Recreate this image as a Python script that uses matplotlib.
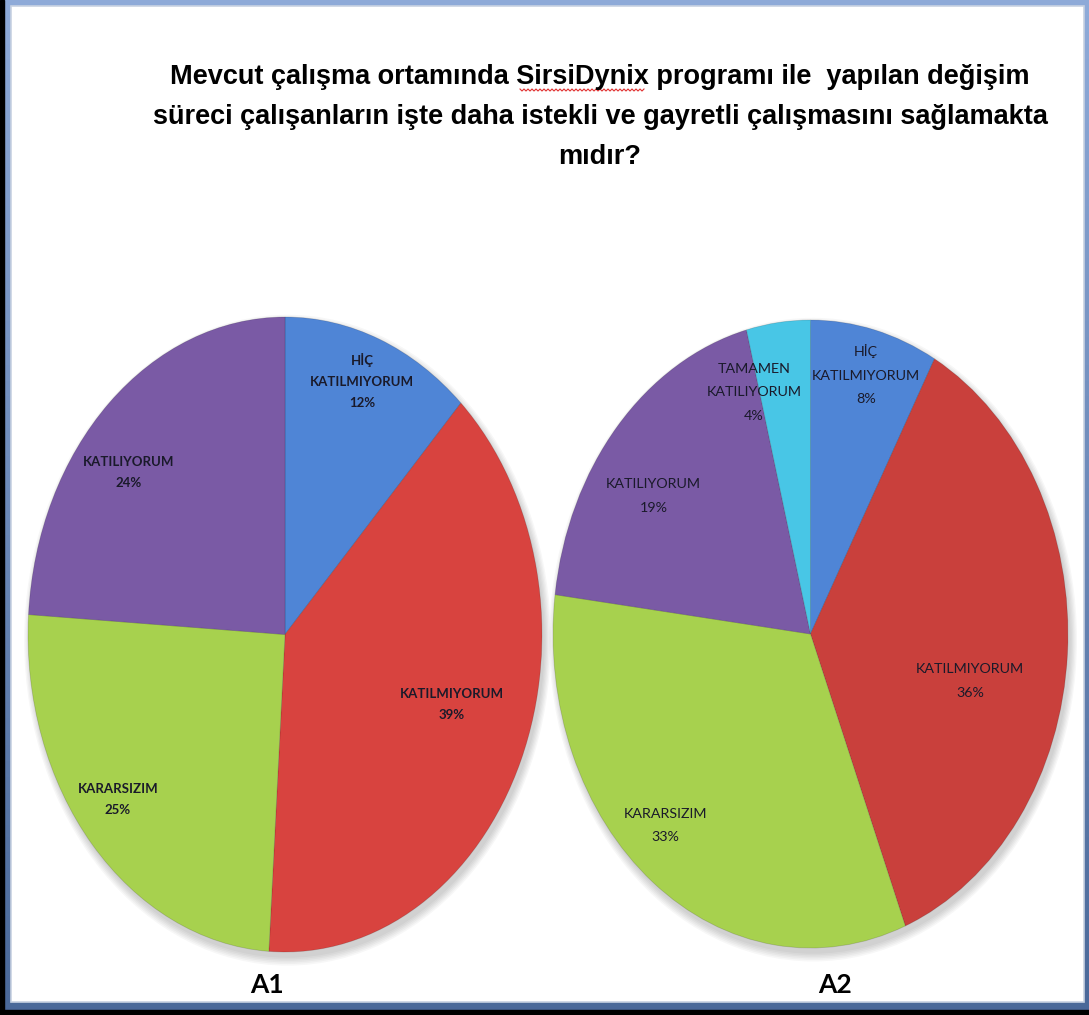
import numpy as np
import matplotlib
matplotlib.use("Agg")
import matplotlib.pyplot as plt
from matplotlib.patches import Rectangle, Ellipse

# ---------------- data ----------------
title = ("Mevcut çalışma ortamında SirsiDynix programı ile  yapılan değişim\n"
         "süreci çalışanların işte daha istekli ve gayretli çalışmasını sağlamakta\n"
         "mıdır?")

a1_labels = ["HİÇ\nKATILMIYORUM", "KATILMIYORUM", "KARARSIZIM", "KATILIYORUM"]
a1_values = [12, 39, 25, 24]
a1_name = "A1"

a2_labels = ["HİÇ\nKATILMIYORUM", "KATILMIYORUM", "KARARSIZIM", "KATILIYORUM",
             "TAMAMEN\nKATILIYORUM"]
a2_values = [8, 36, 33, 19, 4]
a2_name = "A2"

# ---------------- style ----------------
W, H = 1089, 1015
DPI = 100
col_blue = "#4f85d6"
col_red1 = "#d8433f"
col_red2 = "#c9403c"
col_green = "#a7d14e"
col_purple = "#7a5aa5"
col_cyan = "#48c6e6"
a1_colors = [col_blue, col_red1, col_green, col_purple]
a2_colors = [col_blue, col_red2, col_green, col_purple, col_cyan]

# label anchor positions in normalised pie units (x, y)
a1_label_pos = [(0.30, 0.80), (0.65, -0.22), (-0.65, -0.52), (-0.61, 0.51)]
a2_label_pos = [(0.216, 0.825), (0.62, -0.15), (-0.565, -0.61), (-0.61, 0.44),
                (-0.22, 0.77)]

fig = plt.figure(figsize=(W / DPI, H / DPI), dpi=DPI)

# ---------------- frame (background axes in pixel coordinates) ----------------
bg = fig.add_axes([0, 0, 1, 1])
bg.axis("off")
grad = np.linspace(0, 1, 256)[:, None]
top_c = np.array([0.56, 0.67, 0.85])
bot_c = np.array([0.29, 0.41, 0.60])
img = top_c[None, None, :] * (1 - grad[..., None]) + bot_c[None, None, :] * grad[..., None]
img = np.repeat(img, 2, axis=1)
bg.imshow(img, extent=(0, W, H, 0), aspect="auto", zorder=0)
bg.add_patch(Rectangle((0, 0), 4, H, color="black", zorder=1))
bg.add_patch(Rectangle((0, 1010), W, 5, color="black", zorder=1))
bg.add_patch(Rectangle((11, 6), 1073, 996, facecolor="white",
                       edgecolor="#c8d2e2", linewidth=1.2, zorder=2))
# spell-check style wavy underline under "SirsiDynix"
wx = np.arange(520, 646, 2.0)
wy = 90 + np.where(np.arange(len(wx)) % 2 == 0, -1.0, 1.0)
bg.plot(wx, wy, color="#e03030", linewidth=0.8, zorder=3)
bg.set_xlim(0, W)
bg.set_ylim(H, 0)

fig.text(600 / W, 1 - 117 / H, title, ha="center", va="center",
         fontsize=19.5, fontweight="bold", family="Liberation Sans",
         linespacing=1.68, color="black")

fig.text(267 / W, 1 - 985 / H, a1_name, ha="center", va="center",
         fontsize=19, fontweight="bold", family="Lato")
fig.text(835 / W, 1 - 985 / H, a2_name, ha="center", va="center",
         fontsize=19, fontweight="bold", family="Lato")


def draw_pie(box, values, colors, labels, label_pos, weight, fsize, lsp):
    x0, y0, x1, y1 = box  # pixel box (top-down)
    ax = fig.add_axes([x0 / W, 1 - y1 / H, (x1 - x0) / W, (y1 - y0) / H])
    # soft shadow
    for k in range(6):
        e = Ellipse((0.01, -0.018), 2.0 + 0.01 * k, 2.0 + 0.01 * k,
                    facecolor="black", alpha=0.03, linewidth=0, zorder=0)
        e.set_clip_on(False)
        ax.add_patch(e)
    wedges, _ = ax.pie(values, colors=colors, startangle=90,
                       counterclock=False, radius=1.0,
                       wedgeprops=dict(edgecolor=(0, 0, 0, 0.15), linewidth=0.6))
    for w_ in wedges:
        w_.set_zorder(2)
        w_.set_clip_on(False)
    total = sum(values)
    for lab, v, (px, py) in zip(labels, values, label_pos):
        ax.text(px, py, f"{lab}\n{round(100 * v / total)}%", ha="center",
                va="center", fontsize=fsize, fontweight=weight, family="Lato",
                linespacing=lsp, color="#1a1a2a", zorder=5)
    ax.set_aspect("auto")
    ax.set_xlim(-1.0, 1.0)
    ax.set_ylim(-1.0, 1.0)
    ax.axis("off")
    return ax


draw_pie((28, 317, 542, 952), a1_values, a1_colors, a1_labels, a1_label_pos,
         "bold", 9.5, 1.9)
draw_pie((553, 320, 1068, 948), a2_values, a2_colors, a2_labels, a2_label_pos,
         "normal", 10.3, 2.15)

fig.savefig("out.png", dpi=DPI)
